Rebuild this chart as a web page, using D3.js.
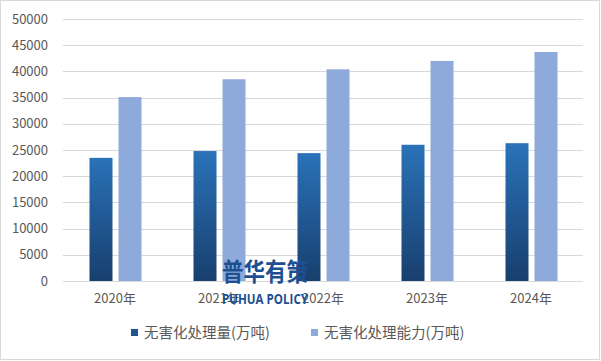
<!DOCTYPE html>
<html><head><meta charset="utf-8">
<script src="https://cdn.jsdelivr.net/npm/d3@7"></script>
<style>body{margin:0;background:#fff}svg{display:block}</style>
</head><body>
<script>
const categories = ["2020年","2021年","2022年","2023年","2024年"];
const amount = [23500, 24800, 24400, 26000, 26300];
const capacity = [35100, 38500, 40400, 42000, 43700];
const yTicks = [0,5000,10000,15000,20000,25000,30000,35000,40000,45000,50000];
const seriesNames = ["无害化处理量(万吨)","无害化处理能力(万吨)"];

const W=601,H=361;
const svg=d3.select("body").append("svg").attr("width",W).attr("height",H);
const font="'Noto Sans CJK SC','Microsoft YaHei',sans-serif";
svg.append("rect").attr("x",0.5).attr("y",0.5).attr("width",W-2).attr("height",H-2).attr("fill","#fff").attr("stroke","#d9d9d9");

const defs=svg.append("defs");
const g1=defs.append("linearGradient").attr("id","gDark").attr("x1",0).attr("y1",0).attr("x2",0).attr("y2",1);
g1.append("stop").attr("offset","0%").attr("stop-color","#2a72b8");
g1.append("stop").attr("offset","100%").attr("stop-color","#183f6e");

const x=d3.scaleBand().domain(categories).range([63,583]);
const y=d3.scaleLinear().domain([0,50000]).range([281,19]);

svg.append("g").selectAll("line").data(yTicks).join("line")
  .attr("x1",63).attr("x2",583).attr("y1",d=>Math.round(y(d))+0.5).attr("y2",d=>Math.round(y(d))+0.5)
  .attr("stroke","#d9d9d9").attr("stroke-width",1);

const yAxis=svg.append("g").attr("transform","translate(56,0)").call(d3.axisLeft(y).tickValues(yTicks).tickSize(0).tickPadding(8).tickFormat(d3.format("d")));
yAxis.select(".domain").remove();
yAxis.selectAll("text").attr("font-family",font).attr("font-size",13).attr("fill","#595959");

const xAxis=svg.append("g").attr("transform","translate(0,281)").call(d3.axisBottom(x).tickSize(0).tickPadding(13));
xAxis.select(".domain").remove();
xAxis.selectAll("text").attr("font-family",font).attr("font-size",13).attr("fill","#595959");

const bw=23, gap=6;
svg.append("g").selectAll("rect").data(categories).join("rect")
  .attr("x",d=>x(d)+x.bandwidth()/2-bw-gap/2+0.5).attr("width",bw)
  .attr("y",(d,i)=>y(amount[i])).attr("height",(d,i)=>y(0)-y(amount[i]))
  .attr("fill","url(#gDark)");
svg.append("g").selectAll("rect").data(categories).join("rect")
  .attr("x",d=>x(d)+x.bandwidth()/2+gap/2+0.5).attr("width",bw)
  .attr("y",(d,i)=>y(capacity[i])).attr("height",(d,i)=>y(0)-y(capacity[i]))
  .attr("fill","#8eaadb");

// watermark
svg.append("text").attr("x",222).attr("y",281).attr("font-family",font)
  .attr("font-weight","bold").attr("font-size",25).attr("fill","#1d4f91")
  .attr("textLength",86).attr("lengthAdjust","spacingAndGlyphs").text("普华有策");
svg.append("text").attr("x",222).attr("y",304).attr("font-family","'Open Sans',sans-serif")
  .attr("font-weight","bold").attr("font-size",15).attr("fill","#1d4f91")
  .attr("textLength",86).attr("lengthAdjust","spacingAndGlyphs").text("PUHUA POLICY");

// legend
const leg=[{x:131,c:"#1f5591",t:seriesNames[0]},{x:311,c:"#8eaadb",t:seriesNames[1]}];
const lg=svg.append("g").selectAll("g").data(leg).join("g");
lg.append("rect").attr("x",d=>d.x).attr("y",329).attr("width",7).attr("height",7).attr("fill",d=>d.c);
lg.append("text").attr("x",d=>d.x+13).attr("y",338).attr("font-family",font).attr("font-size",14.5).attr("fill","#595959").text(d=>d.t);
</script>
</body></html>
